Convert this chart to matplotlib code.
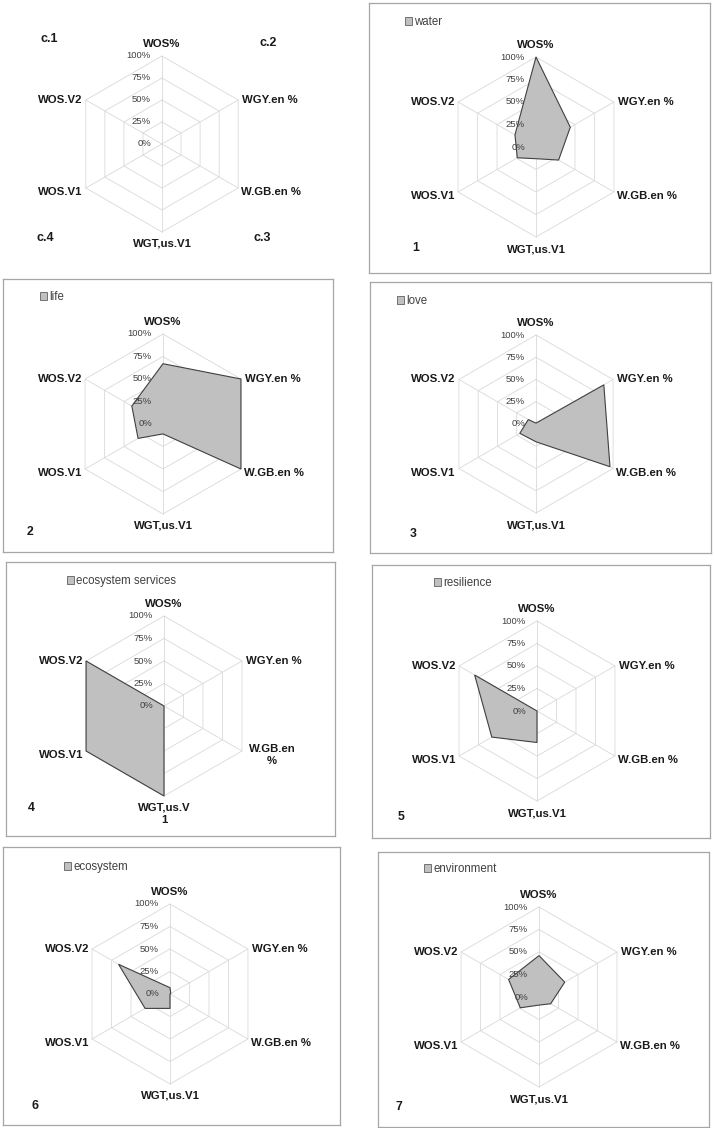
import numpy as np
import matplotlib
matplotlib.use("Agg")
import matplotlib.pyplot as plt

plt.rcParams['font.family'] = ['Liberation Sans', 'DejaVu Sans']

categories = ["WOS%", "WGY.en %", "W.GB.en %", "WGT,us.V1", "WOS.V1", "WOS.V2"]
tick_labels = ["0%", "25%", "50%", "75%", "100%"]
tick_levels = [0, 25, 50, 75, 100]

series_names = ["water", "life", "love", "ecosystem services",
                "resilience", "ecosystem", "environment"]
water = [100, 44, 29, 13, 24, 27]
life = [67, 100, 100, 11, 32, 40]
love = [1, 88, 96, 20, 21, 10]
ecosystem_services = [0, 0, 0, 100, 100, 100]
resilience = [0, 0, 0, 35, 58, 80]
ecosystem = [7, 1, 0, 16, 32, 66]
environment = [46, 33, 15, 9, 24, 39]
series_values = [water, life, love, ecosystem_services, resilience, ecosystem, environment]
panel_numbers = ["1", "2", "3", "4", "5", "6", "7"]
corner_labels = ["c.1", "c.2", "c.3", "c.4"]

W, H = 714, 1128
fig = plt.figure(figsize=(W / 100, H / 100), dpi=100)

# layout in pixels: frame rect (x0, y0, x1, y1), centre (cx, cy), radius
panels = [
    dict(rect=(0, 0, 357, 272), c=(162, 144), r=88, frame=False),
    dict(rect=(369, 3, 710, 273), c=(536, 147), r=90, frame=True, leg=(405, 22), num=(412, 248)),
    dict(rect=(3, 279, 333, 552), c=(163, 424), r=90, frame=True, leg=(40, 297), num=(27, 532)),
    dict(rect=(370, 282, 711, 553), c=(536, 424), r=89, frame=True, leg=(397, 301), num=(410, 534)),
    dict(rect=(6, 562, 335, 836), c=(164, 706), r=90, frame=True, leg=(67, 581), num=(28, 808), wrap=True),
    dict(rect=(372, 565, 710, 838), c=(537, 711), r=90, frame=True, leg=(434, 583), num=(398, 817)),
    dict(rect=(3, 847, 340, 1125), c=(170, 994), r=90, frame=True, leg=(64, 867), num=(32, 1106)),
    dict(rect=(378, 852, 709, 1127), c=(539, 997), r=90, frame=True, leg=(424, 869), num=(396, 1107)),
]

n = len(categories)
theta = np.deg2rad(90 - 60 * np.arange(n))
ux, uy = np.cos(theta), np.sin(theta)

grid_col = '#d9d9d9'
frame_col = '#a6a6a6'
fill_col = '#c0c0c0'
edge_col = '#404040'

for k, p in enumerate(panels):
    x0, y0, x1, y1 = p['rect']
    cx, cy = p['c']
    r = p['r']
    ax = fig.add_axes([x0 / W, 1 - y1 / H, (x1 - x0) / W, (y1 - y0) / H])
    ax.set_xlim((x0 - cx) / r, (x1 - cx) / r)
    ax.set_ylim((cy - y1) / r, (cy - y0) / r)
    ax.set_xticks([])
    ax.set_yticks([])
    for s in ax.spines.values():
        s.set_visible(p['frame'])
        s.set_color(frame_col)
        s.set_linewidth(0.9)

    # grid
    for lv in tick_levels[1:]:
        f = lv / 100
        ax.plot(np.append(ux, ux[0]) * f, np.append(uy, uy[0]) * f,
                color=grid_col, lw=0.6, zorder=1)
    for i in range(n):
        ax.plot([0, ux[i]], [0, uy[i]], color=grid_col, lw=0.6, zorder=1)

    # data polygon
    if k > 0:
        vals = np.array(series_values[k - 1]) / 100
        ax.fill(ux * vals, uy * vals, facecolor=fill_col, edgecolor=edge_col,
                lw=0.8, zorder=2, label=series_names[k - 1])
        lx, ly = p['leg']
        ax.legend(loc='center left', bbox_to_anchor=(lx / W, 1 - ly / H),
                  bbox_transform=fig.transFigure, frameon=False, fontsize=8.3,
                  handlelength=0.6, handleheight=0.6, handletextpad=0.2,
                  borderpad=0, borderaxespad=0, labelcolor='#404040')
        for h in ax.get_legend().legend_handles:
            h.set_edgecolor('#606060')
            h.set_linewidth(0.6)
        nx, ny = p['num']
        fig.text(nx / W, 1 - ny / H, panel_numbers[k - 1], fontsize=8.8,
                 fontweight='bold', ha='left', va='center', color='#1a1a1a')

    # tick labels
    for lv, tl in zip(tick_levels, tick_labels):
        ax.text(-11 / r, lv / 100, tl, ha='right', va='center', fontsize=6.8,
                color='#404040', zorder=3)

    # category labels
    lab = list(categories)
    if p.get('wrap'):
        lab[2] = "W.GB.en\n%"
        lab[3] = "WGT,us.V\n1"
    fs = 8.2
    kw = dict(fontsize=fs, fontweight='bold', color='#1a1a1a', zorder=3)
    ax.text(0, 1 + 12 / r, lab[0], ha='center', va='center', **kw)
    ax.text(ux[1] + 4 / r, uy[1], lab[1], ha='left', va='center', **kw)
    if p.get('wrap'):
        ax.text(ux[2] + 30 / r, uy[2] - 4 / r, lab[2], ha='center', va='center',
                linespacing=1.25, **kw)
        ax.text(0, -1 - 18 / r, lab[3], ha='center', va='center',
                linespacing=1.25, **kw)
    else:
        ax.text(ux[2] + 3 / r, uy[2] - 4 / r, lab[2], ha='left', va='center', **kw)
        ax.text(0, -1 - 12 / r, lab[3], ha='center', va='center', **kw)
    ax.text(ux[4] - 3 / r, uy[4] - 4 / r, lab[4], ha='right', va='center', **kw)
    ax.text(ux[5] - 3 / r, uy[5], lab[5], ha='right', va='center', **kw)

# corner labels of the key panel
corner_pos = [(49, 39), (268, 43), (262, 238), (45, 238)]
for t, (x, y) in zip(corner_labels, corner_pos):
    fig.text(x / W, 1 - y / H, t, fontsize=9, fontweight='bold',
             ha='center', va='center', color='#1a1a1a')

fig.savefig("out.png", dpi=100)
